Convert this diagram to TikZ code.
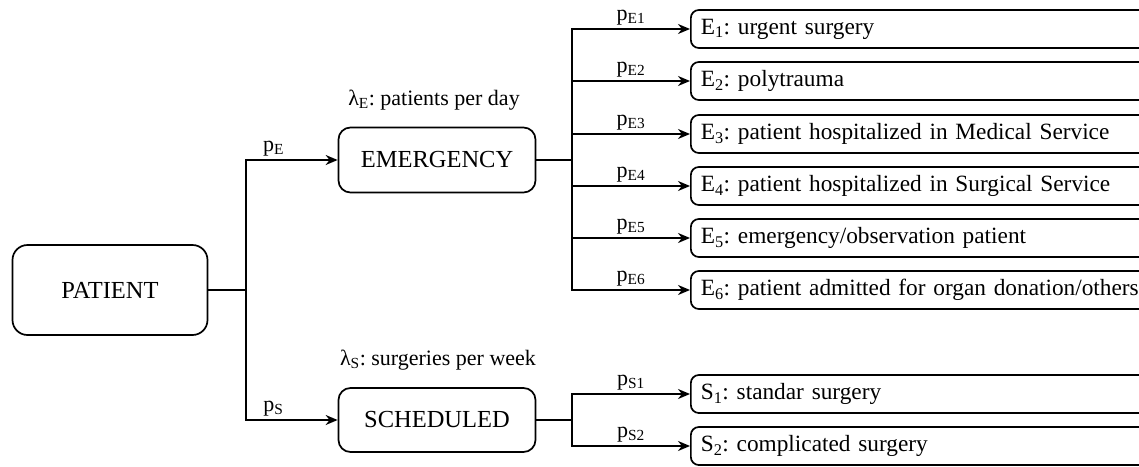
\documentclass[tikz,border=0pt]{standalone}
\usepackage{fontspec}
\setmainfont{Liberation Serif}
\usetikzlibrary{arrows.meta,positioning}
\frenchspacing
\tikzset{
  box/.style={draw, rounded corners=12pt, line width=1.7pt, font=\fontsize{24.5}{28}\selectfont},
  leaf/.style={draw, rounded corners=8pt, line width=1.7pt, anchor=west, minimum height=38pt,
    text width=500pt, inner xsep=10pt, align=left, font=\fontsize{23.3}{28}\selectfont},
  lbl/.style={font=\fontsize{22}{25}\selectfont},
  link/.style={line width=1.7pt},
  arr/.style={link, -{Stealth[length=12pt,width=10pt]}},
}
\begin{document}
\begin{tikzpicture}[x=1pt, y=-1pt]
    \clip (0,0) rectangle (1139,466);
    % place nodes
    \node [box, minimum width=195pt, minimum height=90pt, rounded corners=15pt] (patient) at (110,290) {PATIENT};
    \node [box, minimum width=197pt, minimum height=65pt] (emerg) at (437,160) {EMERGENCY};
    \node [box, minimum width=197pt, minimum height=64pt] (sched) at (437,420) {SCHEDULED};
    \node [lbl] (lamE) at (434,100) {λ\textsubscript{E}: patients per day};
    \node [lbl] (lamS) at (438,360) {λ\textsubscript{S}: surgeries per week};
    \coordinate (jp) at (246,290);
    \coordinate (je) at (572,160);
    \coordinate (js) at (572,420);
    \node [leaf] (e1) at (690,29) {E\textsubscript{1}: urgent surgery};
    \node [leaf] (e2) at (690,81) {E\textsubscript{2}: polytrauma};
    \node [leaf] (e3) at (690,134) {E\textsubscript{3}: patient hospitalized in Medical Service};
    \node [leaf] (e4) at (690,186) {E\textsubscript{4}: patient hospitalized in Surgical Service};
    \node [leaf] (e5) at (690,238) {E\textsubscript{5}: emergency/observation patient};
    \node [leaf] (e6) at (690,290) {E\textsubscript{6}: patient admitted for organ donation/others};
    \node [leaf] (s1) at (690,394) {S\textsubscript{1}: standar surgery};
    \node [leaf] (s2) at (690,446) {S\textsubscript{2}: complicated surgery};
    % draw edges
    \draw [link] (patient) -- (jp);
    \draw [arr] (jp) |- node [lbl, above, pos=0.65] {p\textsubscript{E}} (emerg);
    \draw [arr] (jp) |- node [lbl, above, pos=0.65] {p\textsubscript{S}} (sched);
    \draw [link] (emerg) -- (je);
    \draw [arr] (je) |- node [lbl, above, pos=0.75] {p\textsubscript{E1}} (e1);
    \draw [arr] (je) |- node [lbl, above, pos=0.75] {p\textsubscript{E2}} (e2);
    \draw [arr] (je) |- node [lbl, above, pos=0.75] {p\textsubscript{E3}} (e3);
    \draw [arr] (je) |- node [lbl, above, pos=0.75] {p\textsubscript{E4}} (e4);
    \draw [arr] (je) |- node [lbl, above, pos=0.75] {p\textsubscript{E5}} (e5);
    \draw [arr] (je) |- node [lbl, above, pos=0.75] {p\textsubscript{E6}} (e6);
    \draw [link] (sched) -- (js);
    \draw [arr] (js) |- node [lbl, above, pos=0.75] {p\textsubscript{S1}} (s1);
    \draw [arr] (js) |- node [lbl, above, pos=0.75] {p\textsubscript{S2}} (s2);
\end{tikzpicture}
\end{document}
